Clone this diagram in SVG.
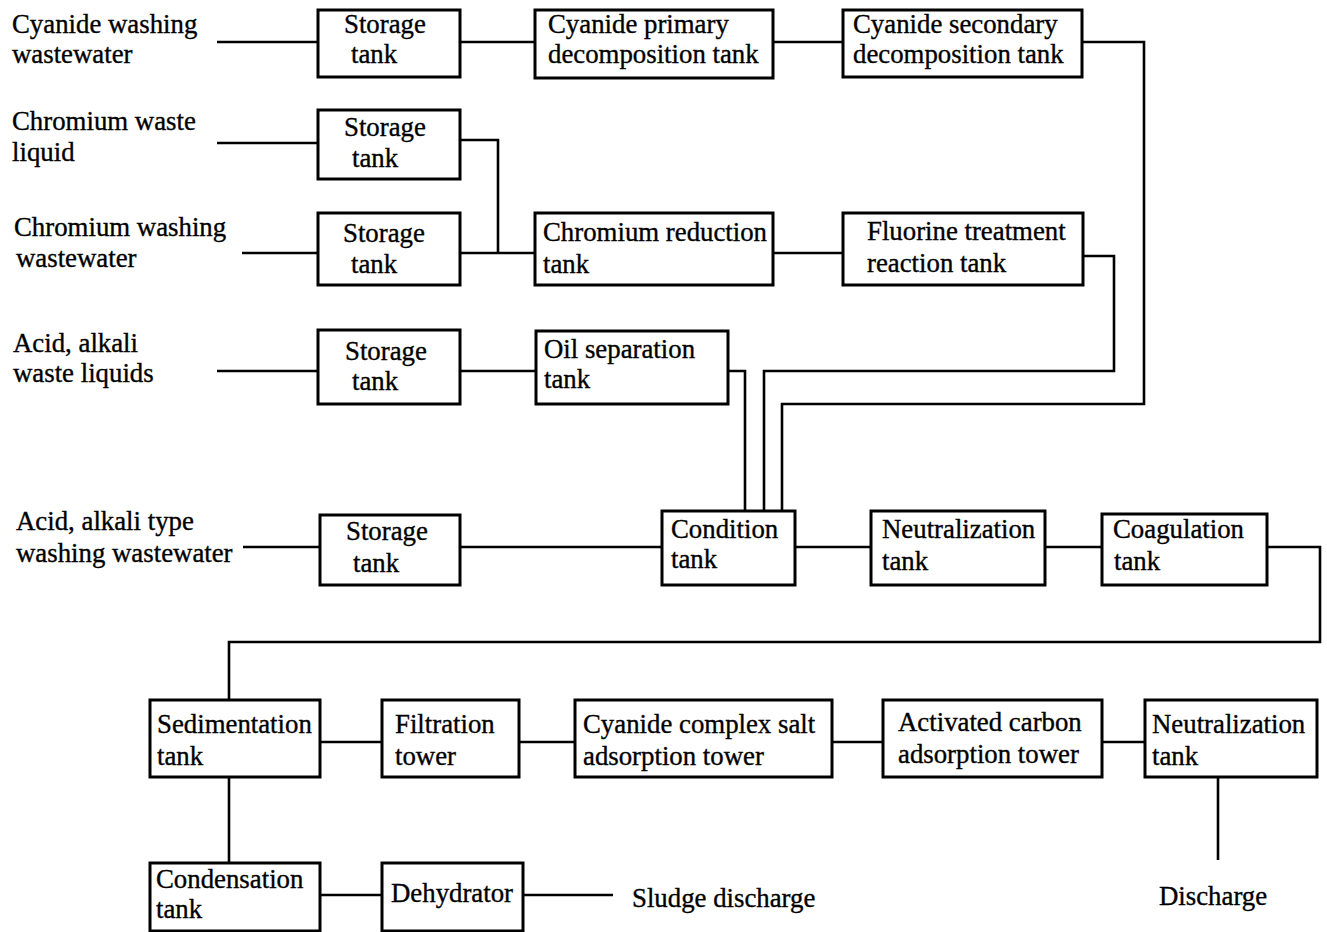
<svg xmlns="http://www.w3.org/2000/svg" width="1327" height="932" viewBox="0 0 1327 932">
  <style>
    .box { fill: #fff; stroke: #000; stroke-width: 3; }
    .pipe { fill: none; stroke: #000; stroke-width: 2.6; stroke-linejoin: miter; }
    text { font-family: "Liberation Serif", "Times New Roman", serif; font-size: 26.8px; fill: #000; stroke: #000; stroke-width: 0.35; }
  </style>
  <rect width="1327" height="932" fill="#fff"/>

  <!-- connectors -->
  <g id="connectors" class="pipe">
    <!-- cyanide line -->
    <path d="M217 42 H318"/>
    <path d="M460 42 H535"/>
    <path d="M773 42 H843"/>
    <path d="M1082 42 H1144 V404 H782 V511"/>
    <!-- chromium lines -->
    <path d="M217 143 H318"/>
    <path d="M460 140 H498 V253"/>
    <path d="M242 253 H318"/>
    <path d="M460 253 H535"/>
    <path d="M773 253 H843"/>
    <path d="M1083 256 H1114 V371 H764 V511"/>
    <!-- acid / alkali lines -->
    <path d="M217 371 H318"/>
    <path d="M460 371 H536"/>
    <path d="M728 371 H745 V511"/>
    <path d="M243 547 H320"/>
    <path d="M460 547 H662"/>
    <path d="M795 547 H871"/>
    <path d="M1045 547 H1102"/>
    <path d="M1267 547 H1320 V642 H229 V700"/>
    <!-- bottom process line -->
    <path d="M320 742 H382"/>
    <path d="M519 742 H575"/>
    <path d="M832 742 H883"/>
    <path d="M1102 742 H1145"/>
    <path d="M1218 777 V860"/>
    <!-- sludge line -->
    <path d="M229 777 V863"/>
    <path d="M320 895 H382"/>
    <path d="M523 895 H613"/>
  </g>

  <!-- source labels -->
  <g id="source-cyanide"><text x="12" y="33">Cyanide washing</text><text x="12" y="63">wastewater</text></g>
  <g id="source-chromium-liquid"><text x="12" y="130">Chromium waste</text><text x="12" y="161">liquid</text></g>
  <g id="source-chromium-washing"><text x="14" y="236">Chromium washing</text><text x="16" y="267">wastewater</text></g>
  <g id="source-acid-liquid"><text x="13" y="352">Acid, alkali</text><text x="13" y="382">waste liquids</text></g>
  <g id="source-acid-washing"><text x="16" y="530">Acid, alkali type</text><text x="16" y="562">washing wastewater</text></g>

  <!-- row 1 -->
  <g id="storage-1"><rect class="box" x="318" y="10" width="142" height="67"/><text x="344" y="33">Storage</text><text x="351" y="63">tank</text></g>
  <g id="cyanide-primary"><rect class="box" x="535" y="10" width="238" height="68"/><text x="548" y="33">Cyanide primary</text><text x="548" y="63">decomposition tank</text></g>
  <g id="cyanide-secondary"><rect class="box" x="843" y="10" width="239" height="67"/><text x="853" y="33">Cyanide secondary</text><text x="853" y="63">decomposition tank</text></g>

  <!-- chromium rows -->
  <g id="storage-2"><rect class="box" x="318" y="110" width="142" height="69"/><text x="344" y="136">Storage</text><text x="352" y="167">tank</text></g>
  <g id="storage-3"><rect class="box" x="318" y="213" width="142" height="72"/><text x="343" y="242">Storage</text><text x="351" y="273">tank</text></g>
  <g id="chromium-reduction"><rect class="box" x="535" y="213" width="238" height="72"/><text x="543" y="241">Chromium reduction</text><text x="543" y="273">tank</text></g>
  <g id="fluorine-treatment"><rect class="box" x="843" y="213" width="240" height="72"/><text x="867" y="240">Fluorine treatment</text><text x="867" y="272">reaction tank</text></g>

  <!-- acid / alkali rows -->
  <g id="storage-4"><rect class="box" x="318" y="330" width="142" height="74"/><text x="345" y="360">Storage</text><text x="352" y="390">tank</text></g>
  <g id="oil-separation"><rect class="box" x="536" y="331" width="192" height="73"/><text x="544" y="358">Oil separation</text><text x="544" y="388">tank</text></g>
  <g id="storage-5"><rect class="box" x="320" y="515" width="140" height="70"/><text x="346" y="540">Storage</text><text x="353" y="572">tank</text></g>
  <g id="condition-tank"><rect class="box" x="662" y="511" width="133" height="74"/><text x="671" y="538">Condition</text><text x="671" y="568">tank</text></g>
  <g id="neutralization-1"><rect class="box" x="871" y="511" width="174" height="74"/><text x="882" y="538">Neutralization</text><text x="882" y="570">tank</text></g>
  <g id="coagulation-tank"><rect class="box" x="1102" y="514" width="165" height="71"/><text x="1113" y="538">Coagulation</text><text x="1114" y="570">tank</text></g>

  <!-- treatment row -->
  <g id="sedimentation-tank"><rect class="box" x="150" y="700" width="170" height="77"/><text x="157" y="733">Sedimentation</text><text x="157" y="765">tank</text></g>
  <g id="filtration-tower"><rect class="box" x="382" y="700" width="137" height="77"/><text x="395" y="733">Filtration</text><text x="395" y="765">tower</text></g>
  <g id="cyanide-complex"><rect class="box" x="575" y="700" width="257" height="77"/><text x="583" y="733">Cyanide complex salt</text><text x="583" y="765">adsorption tower</text></g>
  <g id="activated-carbon"><rect class="box" x="883" y="700" width="219" height="77"/><text x="898" y="731">Activated carbon</text><text x="898" y="763">adsorption tower</text></g>
  <g id="neutralization-2"><rect class="box" x="1145" y="700" width="172" height="77"/><text x="1152" y="733">Neutralization</text><text x="1152" y="765">tank</text></g>
  <g id="discharge"><text x="1159" y="905">Discharge</text></g>

  <!-- sludge row -->
  <g id="condensation-tank"><rect class="box" x="150" y="863" width="170" height="68"/><text x="156" y="888">Condensation</text><text x="156" y="918">tank</text></g>
  <g id="dehydrator"><rect class="box" x="382" y="863" width="141" height="68"/><text x="391" y="902">Dehydrator</text></g>
  <g id="sludge-discharge"><text x="632" y="907">Sludge discharge</text></g>
</svg>
